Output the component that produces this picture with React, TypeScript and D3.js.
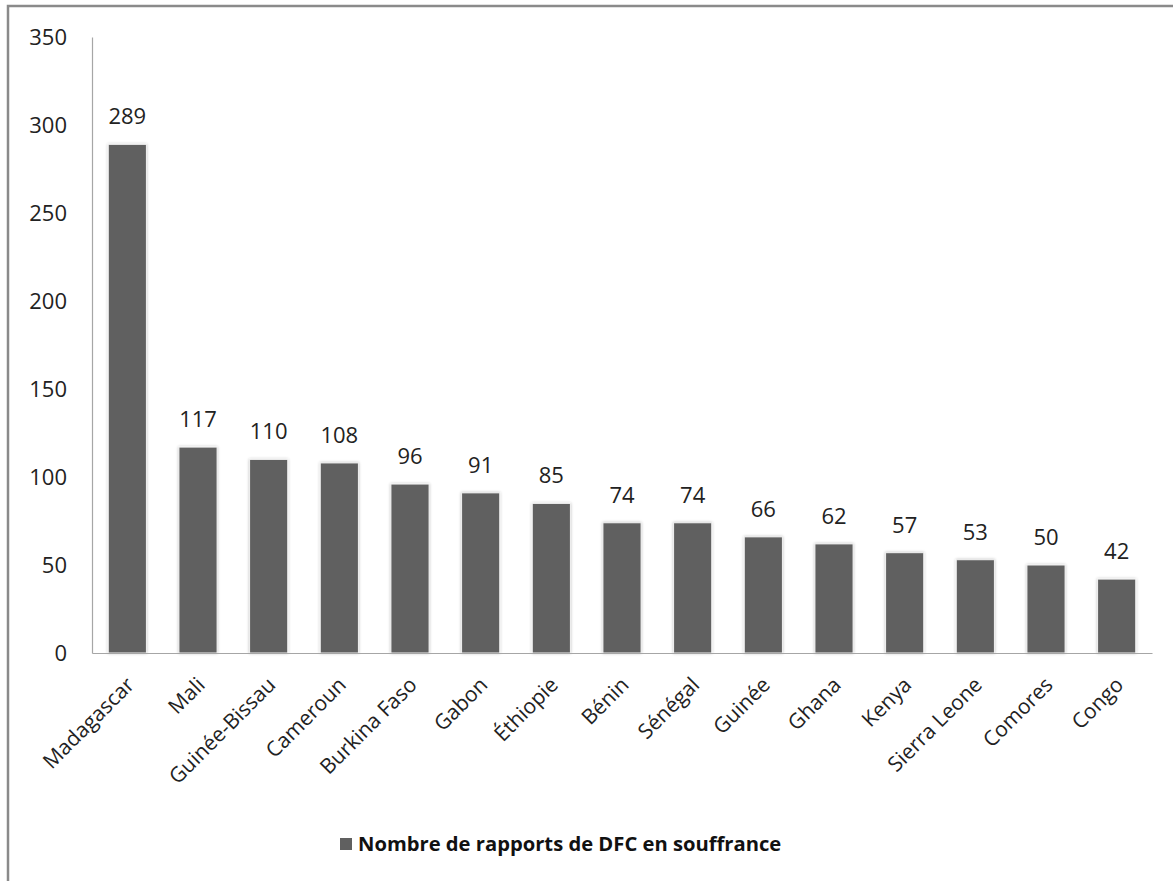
import * as d3 from "d3";
import { useEffect, useRef } from "react";

const countries = [
  "Madagascar",
  "Mali",
  "Guinée-Bissau",
  "Cameroun",
  "Burkina Faso",
  "Gabon",
  "Éthiopie",
  "Bénin",
  "Sénégal",
  "Guinée",
  "Ghana",
  "Kenya",
  "Sierra Leone",
  "Comores",
  "Congo",
];
const reports = [289, 117, 110, 108, 96, 91, 85, 74, 74, 66, 62, 57, 53, 50, 42];
const yTicks = [0, 50, 100, 150, 200, 250, 300, 350];
const seriesName = "Nombre de rapports de DFC en souffrance";

const FONT = "'Open Sans', Lato, sans-serif";

export default function App() {
  const ref = useRef<SVGSVGElement | null>(null);

  useEffect(() => {
    if (!ref.current) return;
    const svg = d3.select(ref.current);
    svg.selectAll("*").remove();

    const width = 1173;
    const height = 881;
    const margin = { top: 37, right: 21, bottom: 228, left: 92 };
    const barColor = "#606060";

    // outer frame (only top/left edges visible in the crop)
    svg
      .append("rect")
      .attr("x", 8)
      .attr("y", 6)
      .attr("width", width + 20)
      .attr("height", height + 20)
      .attr("fill", "white")
      .attr("stroke", "#8a8a8a")
      .attr("stroke-width", 2.5);

    const x = d3
      .scaleBand()
      .domain(countries)
      .range([margin.left, width - margin.right])
      .paddingInner(0.46)
      .paddingOuter(0.23);

    const y = d3
      .scaleLinear()
      .domain([0, 350])
      .range([height - margin.bottom, margin.top]);

    const data = countries.map((c, i) => ({ c, v: reports[i] }));

    const defs = svg.append("defs");
    const f = defs.append("filter").attr("id", "sh").attr("x", "-30%").attr("y", "-10%").attr("width", "160%").attr("height", "120%");
    f.append("feGaussianBlur").attr("in", "SourceAlpha").attr("stdDeviation", 1.5).attr("result", "b");
    f.append("feComponentTransfer").attr("in", "b").attr("result", "b2")
      .append("feFuncA").attr("type", "linear").attr("slope", 0.25);
    const m = f.append("feMerge");
    m.append("feMergeNode").attr("in", "b2");
    m.append("feMergeNode").attr("in", "SourceGraphic");

    // bars
    svg
      .append("g")
      .selectAll("rect")
      .data(data)
      .join("rect")
      .attr("x", (d) => x(d.c)!)
      .attr("y", (d) => y(d.v))
      .attr("width", x.bandwidth())
      .attr("height", (d) => y(0) - y(d.v))
      .attr("fill", barColor)
      .attr("stroke", "#f2f2f2")
      .attr("stroke-width", 1)
      .attr("filter", "url(#sh)");

    // value labels
    svg
      .append("g")
      .selectAll("text")
      .data(data)
      .join("text")
      .attr("x", (d) => x(d.c)! + x.bandwidth() / 2)
      .attr("y", (d) => y(d.v) - 20)
      .attr("text-anchor", "middle")
      .attr("font-family", FONT)
      .attr("font-size", 22)
      .attr("fill", "#222")
      .text((d) => d.v);

    // y axis
    const yAxis = svg
      .append("g")
      .attr("transform", `translate(${margin.left},0)`)
      .call(d3.axisLeft(y).tickValues(yTicks).tickSize(0).tickPadding(25));
    yAxis.select(".domain").attr("stroke", "#a6a6a6").attr("stroke-width", 1.2);
    yAxis
      .selectAll("text")
      .attr("font-family", FONT)
      .attr("font-size", 22)
      .attr("fill", "#222");

    // x axis
    const xAxis = svg
      .append("g")
      .attr("transform", `translate(0,${y(0)})`)
      .call(d3.axisBottom(x).tickSize(0).tickFormat(() => ""));
    xAxis.select(".domain").attr("stroke", "#a6a6a6").attr("stroke-width", 1.2);

    svg
      .append("g")
      .selectAll("text")
      .data(countries)
      .join("text")
      .attr(
        "transform",
        (c) => `translate(${x(c)! + x.bandwidth() / 2 - 3},${y(0) + 22}) rotate(-45)`
      )
      .attr("text-anchor", "end")
      .attr("dy", "0.75em")
      .attr("font-family", FONT)
      .attr("font-size", 21)
      .attr("fill", "#222")
      .text((c) => c);

    // legend
    const legend = svg.append("g").attr("transform", "translate(340,838)");
    legend.append("rect").attr("width", 12).attr("height", 12).attr("fill", barColor);
    legend
      .append("text")
      .attr("x", 18)
      .attr("y", 6)
      .attr("dy", "0.35em")
      .attr("font-family", FONT)
      .attr("font-size", 20.2)
      .attr("font-weight", "bold")
      .attr("fill", "#111")
      .text(seriesName);
  }, []);

  return (
    <svg
      ref={ref}
      width={1173}
      height={881}
      style={{ position: "absolute", left: 0, top: 0 }}
    />
  );
}
